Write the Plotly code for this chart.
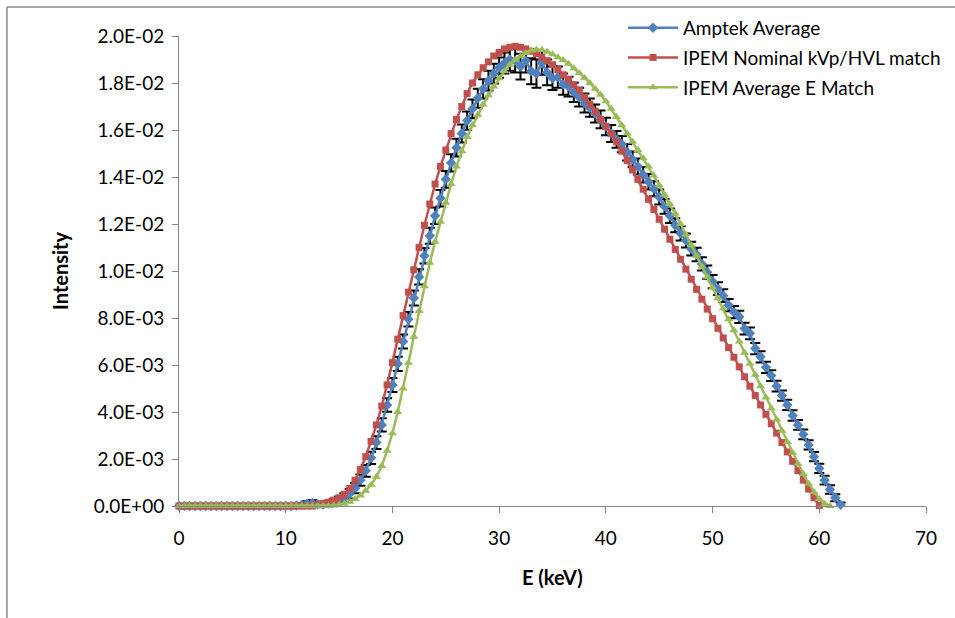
import plotly.graph_objects as go

SCALE = 1e-3  # values below are in units of 1E-03

energy_keV = [
    0.0, 0.5, 1.0, 1.5, 2.0, 2.5, 3.0, 3.5, 4.0, 4.5, 5.0, 5.5, 6.0, 6.5, 7.0, 7.5,
    8.0, 8.5, 9.0, 9.5, 10.0, 10.5, 11.0, 11.5, 12.0, 12.5, 13.0, 13.5, 14.0, 14.5,
    15.0, 15.5, 16.0, 16.5, 17.0, 17.5, 18.0, 18.5, 19.0, 19.5, 20.0, 20.5, 21.0,
    21.5, 22.0, 22.5, 23.0, 23.5, 24.0, 24.5, 25.0, 25.5, 26.0, 26.5, 27.0, 27.5,
    28.0, 28.5, 29.0, 29.5, 30.0, 30.5, 31.0, 31.5, 32.0, 32.5, 33.0, 33.5, 34.0,
    34.5, 35.0, 35.5, 36.0, 36.5, 37.0, 37.5, 38.0, 38.5, 39.0, 39.5, 40.0, 40.5,
    41.0, 41.5, 42.0, 42.5, 43.0, 43.5, 44.0, 44.5, 45.0, 45.5, 46.0, 46.5, 47.0,
    47.5, 48.0, 48.5, 49.0, 49.5, 50.0, 50.5, 51.0, 51.5, 52.0, 52.5, 53.0, 53.5,
    54.0, 54.5, 55.0, 55.5, 56.0, 56.5, 57.0, 57.5, 58.0, 58.5, 59.0, 59.5, 60.0,
    60.5, 61.0, 61.5, 62.0, 62.5,
]

amptek_average = [
    0, 0, 0, 0, 0, 0, 0, 0, 0, 0, 0, 0, 0, 0, 0, 0, 0, 0, 0, 0, 0, 0,
    0.02, 0.05, 0.10, 0.12, 0.08,
    0.06, 0.10, 0.16, 0.24, 0.36, 0.52, 0.76, 1.10, 1.50, 2.05, 2.70, 3.45, 4.30, 5.15,
    6.05, 7.00, 7.95, 8.85, 9.75, 10.65, 11.50, 12.35, 13.10, 13.90, 14.60, 15.25,
    15.85, 16.40, 16.90, 17.35, 17.75, 18.10, 18.40, 18.65, 18.85, 19.00, 18.95,
    18.70, 18.95, 18.50, 18.40, 18.85, 18.45, 18.20, 18.25, 17.95, 17.85, 17.60,
    17.40, 17.15, 16.95, 16.70, 16.45, 16.15, 15.85, 15.60, 15.40, 15.05, 14.75,
    14.45, 14.10, 13.80, 13.50, 13.15, 12.75, 12.35, 11.95, 11.60, 11.30, 10.95,
    10.70, 10.30, 9.95, 9.55, 9.25, 8.95, 8.55, 8.25, 8.05, 7.55, 7.35, 6.70, 6.35,
    5.90, 5.55, 5.10, 4.70, 4.30, 3.85, 3.45, 3.05, 2.60, 2.10, 1.60, 1.10, 0.70,
    0.35, 0.05,
]

amptek_error = [
    0, 0, 0, 0, 0, 0, 0, 0, 0, 0, 0, 0, 0, 0, 0, 0, 0, 0, 0, 0, 0, 0,
    0.05, 0.08, 0.10, 0.12, 0.10,
    0.10, 0.12, 0.14, 0.16, 0.18, 0.20, 0.22, 0.24, 0.25, 0.26, 0.27, 0.28, 0.29, 0.30,
    0.30, 0.30, 0.31, 0.32, 0.32, 0.33, 0.34, 0.35, 0.35, 0.36, 0.37, 0.38, 0.38,
    0.39, 0.40, 0.40, 0.41, 0.42, 0.42, 0.43,
    0.45, 0.48, 0.50, 0.55, 0.50, 0.55, 0.60, 0.50, 0.55, 0.50, 0.45, 0.45,
    0.42, 0.41, 0.40, 0.40, 0.39, 0.38, 0.38, 0.37, 0.36, 0.36,
    0.35, 0.35, 0.34, 0.34, 0.33, 0.33, 0.32, 0.32, 0.31, 0.31,
    0.30, 0.30, 0.30, 0.29, 0.29, 0.28, 0.28, 0.28, 0.27, 0.27,
    0.26, 0.26, 0.26, 0.25, 0.25, 0.24, 0.24, 0.24, 0.23, 0.23,
    0.22, 0.22, 0.22, 0.21, 0.21, 0.20, 0.20, 0.20, 0.19, 0.18,
    0.15, 0.10,
]

ipem_nominal = [
    0, 0, 0, 0, 0, 0, 0, 0, 0, 0, 0, 0, 0, 0, 0, 0, 0, 0, 0, 0, 0, 0, 0, 0, 0, 0,
    0.05, 0.10, 0.16, 0.25, 0.35, 0.50, 0.75, 1.10, 1.55, 2.10, 2.75, 3.45, 4.25,
    5.15, 6.10, 7.10, 8.10, 9.10, 10.05, 11.00, 11.95, 12.85, 13.70, 14.45, 15.15,
    15.85, 16.45, 17.00, 17.55, 18.00, 18.35, 18.65, 18.90, 19.15, 19.30, 19.45,
    19.52, 19.56, 19.52, 19.45, 19.35, 19.25, 19.10, 18.95, 18.78, 18.57, 18.35,
    18.15, 17.93, 17.70, 17.40, 17.10, 16.80, 16.45, 16.15, 15.85, 15.50, 15.10,
    14.70, 14.30, 13.90, 13.48, 13.05, 12.62, 12.20, 11.78, 11.35, 10.92, 10.50,
    10.08, 9.65, 9.22, 8.80, 8.38, 7.97, 7.56, 7.15, 6.74, 6.33, 5.92, 5.50, 5.10,
    4.70, 4.30, 3.90, 3.50, 3.10, 2.70, 2.30, 1.90, 1.50, 1.10, 0.72, 0.35, 0.02,
]

ipem_average_e = [
    0, 0, 0, 0, 0, 0, 0, 0, 0, 0, 0, 0, 0, 0, 0, 0, 0, 0, 0, 0, 0, 0, 0, 0, 0, 0,
    0, 0, 0,
    0.02, 0.05, 0.10, 0.18, 0.30, 0.45, 0.65, 0.90, 1.25, 1.70, 2.35, 3.10, 4.00,
    5.00, 6.10, 7.20, 8.30, 9.35, 10.35, 11.25, 12.10, 12.90, 13.70, 14.45, 15.10,
    15.70, 16.20, 16.65, 17.08, 17.48, 17.85, 18.20, 18.50, 18.78, 18.98, 19.14,
    19.28, 19.38, 19.42, 19.40, 19.33, 19.22, 19.10, 18.98, 18.82, 18.63, 18.43,
    18.22, 18.00, 17.76, 17.50, 17.22, 16.90, 16.55, 16.20, 15.85, 15.50, 15.15,
    14.80, 14.45, 14.05, 13.65, 13.25, 12.85, 12.45, 12.00, 11.55, 11.10, 10.65,
    10.20, 9.75, 9.30, 8.85, 8.40, 7.95, 7.48, 7.00, 6.52, 6.05, 5.58, 5.10, 4.62,
    4.15, 3.68, 3.20, 2.72, 2.26, 1.80, 1.36, 0.95, 0.60, 0.30, 0.10, 0.00,
]

series_names = ["Amptek Average", "IPEM Nominal kVp/HVL match", "IPEM Average E Match"]
series_colors = ["#4F81BD", "#C0504D", "#9BBB59"]

x_ticks = [0, 10, 20, 30, 40, 50, 60, 70]
y_tick_vals = [0.0, 0.002, 0.004, 0.006, 0.008, 0.010, 0.012, 0.014, 0.016, 0.018, 0.020]
y_tick_text = ["0.0E+00", "2.0E-03", "4.0E-03", "6.0E-03", "8.0E-03", "1.0E-02",
               "1.2E-02", "1.4E-02", "1.6E-02", "1.8E-02", "2.0E-02"]

FONT = "Lato, 'Open Sans', sans-serif"
AXIS_GREY = "#868686"

fig = go.Figure()

fig.add_trace(go.Scatter(
    x=energy_keV[:len(amptek_average)],
    y=[v * SCALE for v in amptek_average],
    name=series_names[0], mode="lines+markers", legendgroup="g1",
    line=dict(color=series_colors[0], width=2.5),
    marker=dict(symbol="diamond", size=8, color=series_colors[0]),
    error_y=dict(type="data", array=[e * SCALE for e in amptek_error],
                 color="black", thickness=2, width=5),
    cliponaxis=False,
))
fig.add_trace(go.Scatter(
    x=energy_keV[:len(ipem_nominal)],
    y=[v * SCALE for v in ipem_nominal],
    name=series_names[1], mode="lines+markers", legendgroup="g2",
    line=dict(color=series_colors[1], width=2.5),
    marker=dict(symbol="square", size=7, color=series_colors[1]),
    cliponaxis=False,
))
fig.add_trace(go.Scatter(
    x=energy_keV[:len(ipem_average_e)],
    y=[v * SCALE for v in ipem_average_e],
    name=series_names[2], mode="lines+markers", legendgroup="g3",
    line=dict(color=series_colors[2], width=2.5),
    marker=dict(symbol="triangle-up", size=8, color=series_colors[2]),
    cliponaxis=False,
))

fig.update_layout(
    width=955, height=618,
    margin=dict(l=179, r=29, t=36, b=112, autoexpand=False),
    paper_bgcolor="white", plot_bgcolor="white",
    font=dict(family=FONT, size=19, color="black"),
    showlegend=True,
    legend=dict(x=0.5944, y=1.0577, xanchor="left", yanchor="top",
                bgcolor="rgba(0,0,0,0)", font=dict(size=19, family=FONT),
                tracegroupgap=2, itemwidth=50),
    xaxis=dict(range=[0, 70], tickvals=x_ticks, showline=True, linecolor=AXIS_GREY,
               linewidth=1, ticks="outside", ticklen=6, tickcolor=AXIS_GREY,
               ticklabelstandoff=9,
               showgrid=False, zeroline=False, tickfont=dict(size=19, family=FONT)),
    yaxis=dict(range=[0, 0.02], tickvals=y_tick_vals, ticktext=y_tick_text,
               showline=True, linecolor=AXIS_GREY, linewidth=1, ticks="outside",
               ticklen=6, tickcolor=AXIS_GREY, ticklabelstandoff=4,
               showgrid=False, zeroline=False,
               tickfont=dict(size=19, family=FONT)),
    annotations=[
        dict(text="<b>E (keV)</b>", xref="paper", yref="paper", x=0.5, y=-0.151,
             xanchor="center", yanchor="middle", showarrow=False,
             font=dict(size=20, family=FONT)),
        dict(text="<b>Intensity</b>", xref="paper", yref="paper", x=-0.1593, y=0.5,
             xanchor="center", yanchor="middle", showarrow=False, textangle=-90,
             font=dict(size=20, family=FONT)),
    ],
    shapes=[
        dict(type="line", xref="paper", yref="paper", x0=-0.2303, x1=1.05,
             y0=1.0617, y1=1.0617, line=dict(color="#888888", width=1.5)),
        dict(type="line", xref="paper", yref="paper", x0=-0.2303, x1=-0.2303,
             y0=1.0617, y1=-0.26, line=dict(color="#888888", width=1.5)),
    ],
)

fig.write_html("out.html")
